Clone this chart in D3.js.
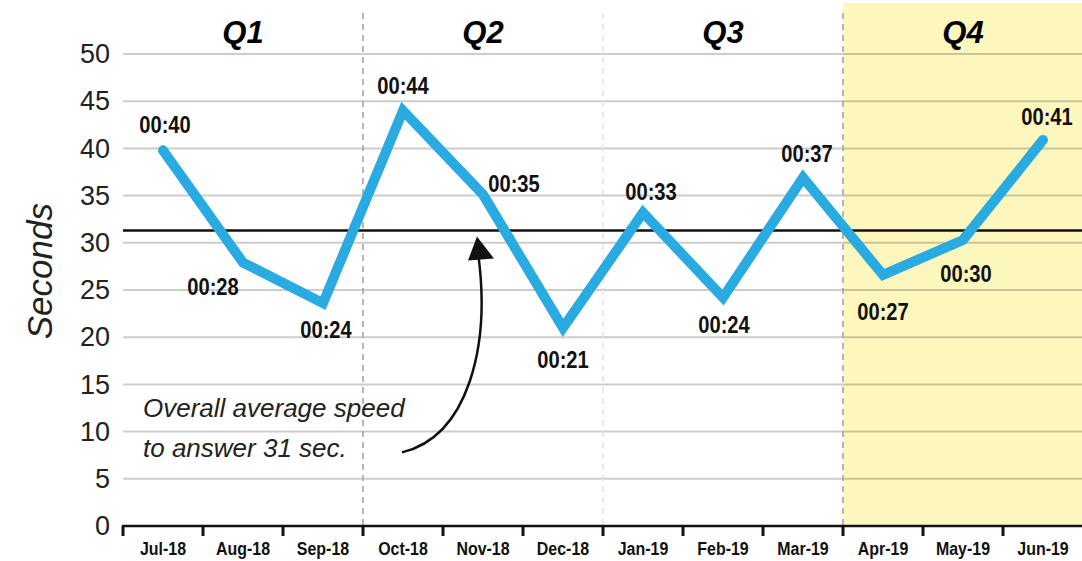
<!DOCTYPE html>
<html>
<head>
<meta charset="utf-8">
<script src="https://cdn.jsdelivr.net/npm/d3@7"></script>
<style>
  body { margin: 0; background: #fff; }
  svg { display: block; }
  .narrow { font-family: "Liberation Sans", Arial, sans-serif; font-weight: bold; }
</style>
</head>
<body>
<div id="chart"></div>
<script>
// months along the bottom
const months = ["Jul-18","Aug-18","Sep-18","Oct-18","Nov-18","Dec-18",
                "Jan-19","Feb-19","Mar-19","Apr-19","May-19","Jun-19"];
// average speed to answer, seconds
const seconds = [39.8, 27.9, 23.6, 44.0, 35.1, 21.0, 33.2, 24.2, 36.9, 26.6, 30.3, 40.9];
const labels = ["00:40","00:28","00:24","00:44","00:35","00:21",
                "00:33","00:24","00:37","00:27","00:30","00:41"];
const quarters = ["Q1","Q2","Q3","Q4"];
const average = 31.3;
const yTicks = [0,5,10,15,20,25,30,35,40,45,50];

// label offsets from the point (px)
const labelOffsets = [[2,-17],[-30,32],[3,35],[0,-17],[31,-3],[0,40],
                      [8,-13],[1,35],[4,-16],[0,45],[3,42],[4,-15]];

const W = 1082, H = 561;
const margin = {left: 123, right: -1, top: 54, bottom: 35};

const svg = d3.select("#chart").append("svg")
    .attr("width", W).attr("height", H);

const x = d3.scaleBand()
    .domain(months)
    .range([margin.left, W - margin.right])
    .paddingInner(0).paddingOuter(0);
const y = d3.scaleLinear()
    .domain([0, 50])
    .range([H - margin.bottom, margin.top]);

const bw = x.bandwidth();
const qStart = (i) => x(months[i * 3]);

// Q4 highlight
svg.append("rect")
    .attr("x", qStart(3))
    .attr("y", 3)
    .attr("width", W - qStart(3))
    .attr("height", y(0) - 3)
    .attr("fill", "#fdf7bd");

// gridlines
svg.append("g")
  .selectAll("line")
  .data(yTicks.filter(d => d > 0))
  .join("line")
    .attr("x1", margin.left).attr("x2", W)
    .attr("y1", d => y(d)).attr("y2", d => y(d))
    .attr("stroke", "rgba(0,0,0,0.2)")
    .attr("stroke-width", 2);

// quarter dividers
svg.append("g")
  .selectAll("line")
  .data([1, 2, 3])
  .join("line")
    .attr("x1", d => qStart(d)).attr("x2", d => qStart(d))
    .attr("y1", 13).attr("y2", y(0))
    .attr("stroke", d => d === 2 ? "#e2e2e2" : "#a0a0a0")
    .attr("stroke-width", 1.5)
    .attr("stroke-dasharray", "6,5");

// quarter titles
svg.append("g")
  .selectAll("text")
  .data(quarters)
  .join("text")
    .attr("x", (d, i) => qStart(i) + bw * 1.5)
    .attr("y", 43)
    .attr("text-anchor", "middle")
    .style("font-family", "Liberation Sans, Arial, sans-serif")
    .style("font-weight", "bold")
    .style("font-style", "italic")
    .style("font-size", "31px")
    .text(d => d);

// y axis
const yAxis = svg.append("g")
    .attr("transform", "translate(" + margin.left + ",0)")
    .call(d3.axisLeft(y).tickValues(yTicks).tickSize(0).tickPadding(13));
yAxis.select(".domain").remove();
yAxis.selectAll("text")
    .style("font-family", "Liberation Sans, Arial, sans-serif")
    .style("font-size", "27px")
    .attr("fill", "#222");

svg.append("text")
    .attr("transform", "translate(52," + y(27) + ") rotate(-90)")
    .attr("text-anchor", "middle")
    .style("font-family", "Liberation Sans, Arial, sans-serif")
    .style("font-style", "italic")
    .style("font-size", "35px")
    .attr("fill", "#222")
    .text("Seconds");

// average line
svg.append("line")
    .attr("x1", margin.left).attr("x2", W)
    .attr("y1", y(average)).attr("y2", y(average))
    .attr("stroke", "#111")
    .attr("stroke-width", 2.5);

// x axis
const xAxis = svg.append("g");
xAxis.append("line")
    .attr("x1", margin.left - 1).attr("x2", W)
    .attr("y1", y(0)).attr("y2", y(0))
    .attr("stroke", "#111").attr("stroke-width", 2.5);
xAxis.selectAll(".tick")
  .data(months)
  .join("line")
    .attr("class", "tick")
    .attr("x1", d => x(d)).attr("x2", d => x(d))
    .attr("y1", y(0)).attr("y2", y(0) + 10)
    .attr("stroke", "#111").attr("stroke-width", 3);
xAxis.selectAll(".lbl")
  .data(months)
  .join("text")
    .attr("class", "lbl narrow")
    .attr("transform", d => "translate(" + (x(d) + bw / 2) + "," + (y(0) + 29) + ") scale(0.84,1)")
    .attr("text-anchor", "middle")
    .style("font-size", "19px")
    .attr("fill", "#111")
    .text(d => d);

// series line
const pts = months.map((m, i) => ({m: m, v: seconds[i], lab: labels[i], off: labelOffsets[i]}));
svg.append("path")
    .datum(pts)
    .attr("fill", "none")
    .attr("stroke", "#29abe2")
    .attr("stroke-width", 10)
    .attr("stroke-linejoin", "miter")
    .attr("stroke-linecap", "round")
    .attr("d", d3.line()
        .x(d => x(d.m) + bw / 2)
        .y(d => y(d.v)));

// value labels (condensed look)
svg.append("g")
  .selectAll("text")
  .data(pts)
  .join("text")
    .attr("class", "narrow")
    .attr("transform", d => "translate(" + (x(d.m) + bw / 2 + d.off[0]) + "," + (y(d.v) + d.off[1]) + ") scale(0.84,1)")
    .attr("text-anchor", "middle")
    .style("font-size", "24px")
    .attr("fill", "#111")
    .text(d => d.lab);

// annotation
const note = svg.append("text")
    .style("font-family", "Liberation Sans, Arial, sans-serif")
    .style("font-style", "italic")
    .style("font-size", "26px")
    .attr("fill", "#222");
note.append("tspan").attr("x", x(months[0]) + 20).attr("y", y(11.5)).text("Overall average speed");
note.append("tspan").attr("x", x(months[0]) + 20).attr("y", y(7.3)).text("to answer 31 sec.");

// curved arrow pointing at the average line
const ax = x("Nov-18");
const tipX = ax + 34, tipY = y(average) + 6;
svg.append("path")
    .attr("fill", "none")
    .attr("stroke", "#111")
    .attr("stroke-width", 2.5)
    .attr("d", "M" + (ax - 41) + "," + y(7.8) +
               " C" + (ax + 25) + "," + y(9.5) + " " + (ax + 48) + "," + y(19) + " " + (tipX + 1) + "," + (tipY + 16));
svg.append("path")
    .attr("fill", "#111")
    .attr("d", "M" + tipX + "," + tipY +
               " L" + (tipX + 17) + "," + (tipY + 22) +
               " L" + (tipX - 9) + "," + (tipY + 24) + " Z");
</script>
</body>
</html>
